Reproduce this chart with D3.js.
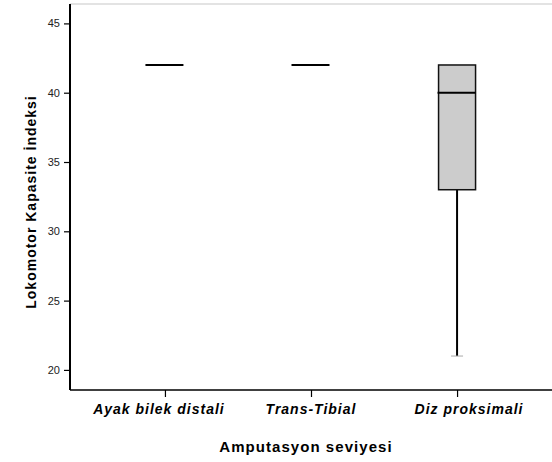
<!DOCTYPE html>
<html lang="tr">
<head>
<meta charset="UTF-8">
<title>Lokomotor Kapasite İndeksi</title>
<script src="https://d3js.org/d3.v7.min.js"></script>
<style>
  body { margin: 0; background: #fff; font-family: "Liberation Sans", Arial, sans-serif; }
  .tick text { font-size: 11px; fill: #222; }
  .cat-label { font-size: 14px; font-weight: bold; font-style: italic; letter-spacing: 1px; }
  .axis-title { font-size: 14px; font-weight: bold; letter-spacing: 1px; }
  .x-title { font-size: 15px; letter-spacing: 1.05px; }
</style>
</head>
<body>
<svg width="552" height="462"></svg>
<script>
  // data
  const categories = ["Ayak bilek distali", "Trans-Tibial", "Diz proksimali"];
  const minVals = [42, 42, 21];
  const q1Vals = [42, 42, 33];
  const medianVals = [42, 42, 40];
  const q3Vals = [42, 42, 42];
  const maxVals = [42, 42, 42];
  const yTicks = [20, 25, 30, 35, 40, 45];

  const boxes = categories.map((c, i) => ({
    cat: c, min: minVals[i], q1: q1Vals[i], median: medianVals[i], q3: q3Vals[i], max: maxVals[i]
  }));

  const margin = { top: 4, right: 0, bottom: 72, left: 70 },
        width = 552 - margin.left - margin.right,
        height = 462 - margin.top - margin.bottom;

  const svg = d3.select("svg")
    .append("g")
    .attr("transform", `translate(${margin.left},${margin.top})`);

  const x = d3.scalePoint()
    .domain(categories)
    .range([0, width])
    .padding(0.65);

  const y = d3.scaleLinear()
    .domain([18.55, 46.4])
    .range([height, 0]);

  const boxW = 37;
  const labelShift = [-6, 0, 12]; // labels sit a little off their ticks

  // light frame line on top
  svg.append("line")
    .attr("x1", 0).attr("x2", width)
    .attr("y1", 0).attr("y2", 0)
    .attr("stroke", "#c8c8c8").attr("stroke-width", 1.2);

  // y axis
  const yAxis = svg.append("g")
    .call(d3.axisLeft(y).tickValues(yTicks).tickSize(6).tickPadding(4));
  yAxis.select(".domain").remove();
  yAxis.selectAll(".tick line").attr("stroke", "#000").attr("stroke-width", 1.2);
  svg.append("line")
    .attr("x1", 0).attr("x2", 0)
    .attr("y1", 0).attr("y2", height)
    .attr("stroke", "#000").attr("stroke-width", 2);

  // x axis
  const xAxis = svg.append("g")
    .attr("transform", `translate(0,${height})`)
    .call(d3.axisBottom(x).tickSize(7).tickFormat(""));
  xAxis.select(".domain").attr("stroke", "#000").attr("stroke-width", 1.5)
    .attr("d", `M0,0H${width}`);
  xAxis.selectAll(".tick line").attr("stroke", "#000").attr("stroke-width", 1.2);

  svg.selectAll(".cat-label")
    .data(categories)
    .join("text")
    .attr("class", "cat-label")
    .attr("x", (d, i) => x(d) + labelShift[i])
    .attr("y", height + 24)
    .attr("text-anchor", "middle")
    .text(d => d);

  // boxes
  const g = svg.selectAll(".box")
    .data(boxes)
    .join("g")
    .attr("class", "box");

  // whisker
  g.filter(d => d.min < d.q1)
    .append("line")
    .attr("x1", d => x(d.cat)).attr("x2", d => x(d.cat))
    .attr("y1", d => y(d.min)).attr("y2", d => y(d.q1))
    .attr("stroke", "#000").attr("stroke-width", 2);

  g.filter(d => d.min < d.q1)
    .append("line")
    .attr("x1", d => x(d.cat) - 6).attr("x2", d => x(d.cat) + 6)
    .attr("y1", d => y(d.min)).attr("y2", d => y(d.min))
    .attr("stroke", "#aaa").attr("stroke-width", 1);

  g.filter(d => d.q3 > d.q1)
    .append("rect")
    .attr("x", d => x(d.cat) - boxW / 2)
    .attr("width", boxW)
    .attr("y", d => y(d.q3))
    .attr("height", d => y(d.q1) - y(d.q3))
    .attr("fill", "#cccccc")
    .attr("stroke", "#111")
    .attr("stroke-width", 1.5);

  g.append("line")
    .attr("x1", d => x(d.cat) - boxW / 2 - 1).attr("x2", d => x(d.cat) + boxW / 2)
    .attr("y1", d => y(d.median)).attr("y2", d => y(d.median))
    .attr("stroke", "#000").attr("stroke-width", 2);

  // axis titles
  svg.append("text")
    .attr("class", "axis-title x-title")
    .attr("x", 306 - margin.left)
    .attr("y", height + 62)
    .attr("text-anchor", "middle")
    .text("Amputasyon seviyesi");

  svg.append("text")
    .attr("class", "axis-title")
    .attr("transform", "rotate(-90)")
    .attr("x", -202 + margin.top)
    .attr("y", -34)
    .attr("text-anchor", "middle")
    .text("Lokomotor Kapasite İndeksi");
</script>
</body>
</html>
